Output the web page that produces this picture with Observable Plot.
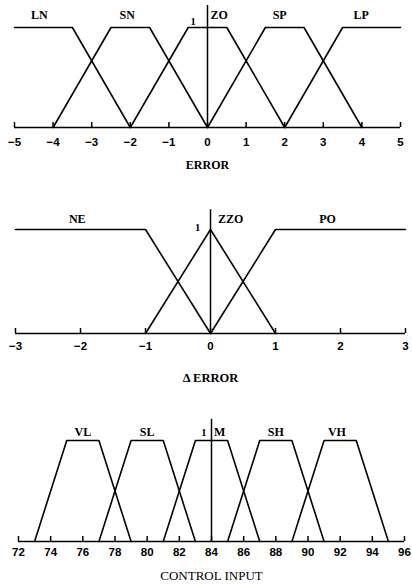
<!DOCTYPE html>
<html><head><meta charset="utf-8">
<script src="https://cdn.jsdelivr.net/npm/d3@7"></script>
<script src="https://cdn.jsdelivr.net/npm/@observablehq/plot@0.6"></script>
<style>
body{margin:0;background:#fff;}
#chart{width:412px;height:585px;display:flex;flex-direction:column;}
#chart svg{display:block;overflow:visible;font-weight:700;}
#chart svg g[aria-label*="tick label"] text{font-weight:700;}
</style></head><body><div id="chart"></div>
<script>
// ---- ERROR ----
const errorNames = ["LN", "SN", "ZO", "SP", "LP"];
const errorCorners = [[null, -5, -3.5, -2], [-4, -2.5, -1.5, 0], [-2, -0.5, 0.5, 2], [0, 1.5, 2.5, 4], [2, 3.5, 5, null]];
const errorLabelX = [-4.36, -2.08, 0.3, 1.87, 3.98];
const errorTicks = [-5, -4, -3, -2, -1, 0, 1, 2, 3, 4, 5];

// ---- Δ ERROR ----
const dErrorNames = ["NE", "ZZO", "PO"];
const dErrorCorners = [[null, -3, -1, 0], [-1, 0, 0, 1], [0, 1, 3, null]];
const dErrorLabelX = [-2.05, 0.31, 1.8];
const dErrorTicks = [-3, -2, -1, 0, 1, 2, 3];

// ---- CONTROL INPUT ----
const controlNames = ["VL", "SL", "M", "SH", "VH"];
const controlCorners = [[73, 75, 77, 79], [77, 79, 81, 83], [81, 83, 85, 87], [85, 87, 89, 91], [89, 91, 93, 95]];
const controlLabelX = [76, 80, 84.5, 88, 91.8];
const controlTicks = [72, 74, 76, 78, 80, 82, 84, 86, 88, 90, 92, 94, 96];

function rowsFrom(names, corners) {
  const rows = [];
  names.forEach((n, i) => {
    const [a, b, c, d] = corners[i];
    if (a !== null) rows.push({set: n, x: a, mu: 0});
    rows.push({set: n, x: b, mu: 1});
    rows.push({set: n, x: c, mu: 1});
    if (d !== null) rows.push({set: n, x: d, mu: 0});
  });
  return rows;
}

const FONT = "'Liberation Sans', Arial, sans-serif";
const SERIF = "'Liberation Serif', serif";
const fmt = d => d < 0 ? "\u2212" + Math.abs(d) : String(d);

function panel({names, corners, labelX, ticks, domain, center, oneX, oneDy, title, titleDy, titleWeight, titleSize,
                margins, tickPad, labelDy, ruleTop}) {
  const [mt, mr, mb, ml] = margins;
  const plotH = 195 - mt - mb;
  const tickLen = 5 / plotH;
  return Plot.plot({
    width: 412, height: 195,
    marginTop: mt, marginRight: mr, marginBottom: mb, marginLeft: ml,
    style: {fontFamily: FONT, fontSize: "11.5px", fontWeight: "bold", color: "#000", background: "#fff"},
    x: {domain, ticks, tickSize: 0, tickPadding: tickPad, tickFormat: fmt, label: null},
    y: {domain: [0, 1], axis: null},
    marks: [
      Plot.ruleY([0], {x1: domain[0], x2: domain[1], stroke: "#000", strokeWidth: 1.5}),
      Plot.ruleX(ticks, {x: d => d, y1: 0, y2: tickLen, stroke: "#000", strokeWidth: 1.5}),
      Plot.ruleX([center], {y1: 0, y2: ruleTop, stroke: "#000", strokeWidth: 1.5}),
      Plot.line(rowsFrom(names, corners), {x: "x", y: "mu", z: "set", stroke: "#000", strokeWidth: 1.6}),
      Plot.text(names, {x: (d, i) => labelX[i], y: () => 1, dy: labelDy, text: d => d,
        fontSize: 12, fontWeight: "bold", fontFamily: SERIF}),
      Plot.text(["1"], {x: () => oneX, y: () => 1, dy: oneDy, text: d => d, fontSize: 10.5, fontWeight: "bold",
        fontFamily: SERIF}),
      Plot.text([title], {frameAnchor: "bottom", dy: titleDy, text: d => d, fontSize: titleSize,
        fontWeight: titleWeight, fontFamily: SERIF})
    ]
  });
}

const chart = document.getElementById("chart");
chart.append(panel({
  names: errorNames, corners: errorCorners, labelX: errorLabelX, ticks: errorTicks, domain: [-5, 5],
  center: 0, oneX: -0.37, oneDy: -6, title: "ERROR", titleDy: 41, titleWeight: "bold", titleSize: 12,
  margins: [27, 12, 68, 14], tickPad: 10, labelDy: -12, ruleTop: 1.22
}));
chart.append(panel({
  names: dErrorNames, corners: dErrorCorners, labelX: dErrorLabelX, ticks: dErrorTicks, domain: [-3, 3],
  center: 0, oneX: -0.2, oneDy: -2, title: "\u0394 ERROR", titleDy: 48, titleWeight: "bold", titleSize: 12.5,
  margins: [34, 7, 57, 15], tickPad: 8, labelDy: -10, ruleTop: 1.19
}));
chart.append(panel({
  names: controlNames, corners: controlCorners, labelX: controlLabelX, ticks: controlTicks, domain: [72, 96],
  center: 84, oneX: 83.52, oneDy: -8, title: "CONTROL INPUT", titleDy: 38, titleWeight: "normal", titleSize: 13,
  margins: [50, 8, 44, 18], tickPad: 6, labelDy: -8, ruleTop: 1.21
}));
</script></body></html>
